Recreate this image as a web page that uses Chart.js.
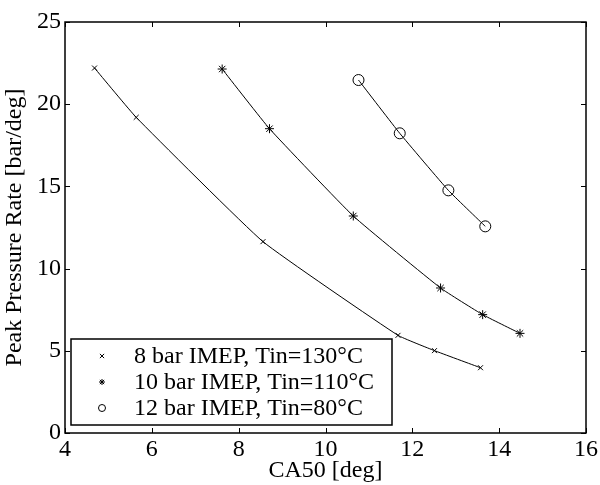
<!DOCTYPE html>
<html>
<head>
<meta charset="utf-8">
<script src="https://cdn.jsdelivr.net/npm/chart.js@4"></script>
<style>
  html, body { margin: 0; padding: 0; background: #fff; }
  #wrap { width: 600px; height: 485px; }
</style>
</head>
<body>
<div id="wrap"><canvas id="myChart" width="600" height="485"></canvas></div>
<script>
const labels = [
  "8 bar IMEP, Tin=130\u00B0C",
  "10 bar IMEP, Tin=110\u00B0C",
  "12 bar IMEP, Tin=80\u00B0C"
];
const ca50_8 = [4.68, 5.64, 8.56, 11.67, 12.51, 13.57];
const ppr_8 = [22.2, 19.2, 11.64, 5.94, 5.01, 3.97];
const ca50_10 = [7.62, 8.71, 10.64, 12.65, 13.62, 14.48];
const ppr_10 = [22.14, 18.51, 13.2, 8.82, 7.2, 6.06];
const ca50_12 = [10.76, 11.71, 12.83, 13.68];
const ppr_12 = [21.47, 18.23, 14.76, 12.57];
const xTicks = [4, 6, 8, 10, 12, 14, 16];
const yTicks = [0, 5, 10, 15, 20, 25];
const markers = ["crossRot", "star", "circle"];

const FONT = "'Liberation Serif', 'Times New Roman', serif";
Chart.defaults.font.family = FONT;
Chart.defaults.color = "#000";

function pts(xs, ys) {
  return xs.map((x, i) => ({ x: x, y: ys[i] }));
}

function makeSet(i, xs, ys, radius) {
  return {
    label: labels[i],
    data: pts(xs, ys),
    borderColor: "#000",
    backgroundColor: "rgba(0,0,0,0)",
    borderWidth: 1,
    pointStyle: markers[i],
    pointRadius: radius,
    pointBorderColor: "#000",
    pointBorderWidth: 1,
    tension: 0.12,
    showLine: true
  };
}

// inward ticks on all four sides, box frame, legend inside the plot
const frame = {
  id: "frame",
  afterDraw(chart) {
    const c = chart.ctx, a = chart.chartArea;
    const xs = chart.scales.x, ys = chart.scales.y;
    c.save();
    c.strokeStyle = "#000";
    c.lineWidth = 1;
    c.beginPath();
    xTicks.forEach(v => {
      const p = Math.round(xs.getPixelForValue(v)) + 0.5;
      c.moveTo(p, a.bottom); c.lineTo(p, a.bottom - 5);
      c.moveTo(p, a.top); c.lineTo(p, a.top + 5);
    });
    yTicks.forEach(v => {
      const p = Math.round(ys.getPixelForValue(v)) + 0.5;
      c.moveTo(a.left, p); c.lineTo(a.left + 5, p);
      c.moveTo(a.right, p); c.lineTo(a.right - 5, p);
    });
    c.stroke();
    c.lineWidth = 1.5;
    c.strokeRect(a.left, a.top, a.right - a.left, a.bottom - a.top);

    const lx = 71, ly = 339, lw = 321, lh = 86;
    c.fillStyle = "#fff";
    c.fillRect(lx, ly, lw, lh);
    c.lineWidth = 1.5;
    c.strokeRect(lx, ly, lw, lh);
    c.font = "24px " + FONT;
    c.textBaseline = "middle";
    labels.forEach((t, i) => {
      const y = ly + 17 + i * 26;
      c.fillStyle = "rgba(0,0,0,0)";
      c.lineWidth = 1;
      Chart.helpers.drawPoint(c, {
        pointStyle: markers[i], radius: i === 2 ? 3.5 : 3, rotation: 0, borderWidth: 1
      }, 102, y);
      c.fillStyle = "#000";
      c.fillText(t, 134, y + 1);
    });
    c.restore();
  }
};

new Chart(document.getElementById("myChart"), {
  type: "scatter",
  data: {
    datasets: [
      makeSet(0, ca50_8, ppr_8, 3.5),
      makeSet(1, ca50_10, ppr_10, 4.5),
      makeSet(2, ca50_12, ppr_12, 5.5)
    ]
  },
  options: {
    responsive: false,
    animation: false,
    layout: { padding: { left: 0, right: 14, top: 22, bottom: 0 } },
    plugins: { legend: { display: false }, tooltip: { enabled: false } },
    scales: {
      x: {
        type: "linear",
        min: 4, max: 16,
        afterBuildTicks: s => { s.ticks = xTicks.map(v => ({ value: v })); },
        afterFit: s => { s.height = 52; },
        grid: { display: false, drawTicks: false },
        border: { display: false },
        ticks: { font: { size: 24 }, padding: 2, maxRotation: 0 },
        title: { display: true, text: "CA50 [deg]", font: { size: 24 }, padding: { top: -8, bottom: 0 } }
      },
      y: {
        type: "linear",
        min: 0, max: 25,
        afterBuildTicks: s => { s.ticks = yTicks.map(v => ({ value: v })); },
        afterFit: s => { s.width = 65; },
        grid: { display: false, drawTicks: false },
        border: { display: false },
        ticks: { font: { size: 24 }, padding: 4 },
        title: { display: true, text: "Peak Pressure Rate [bar/deg]", font: { size: 24 }, padding: { top: 0, bottom: 0 } }
      }
    }
  },
  plugins: [frame]
});
</script>
</body>
</html>
